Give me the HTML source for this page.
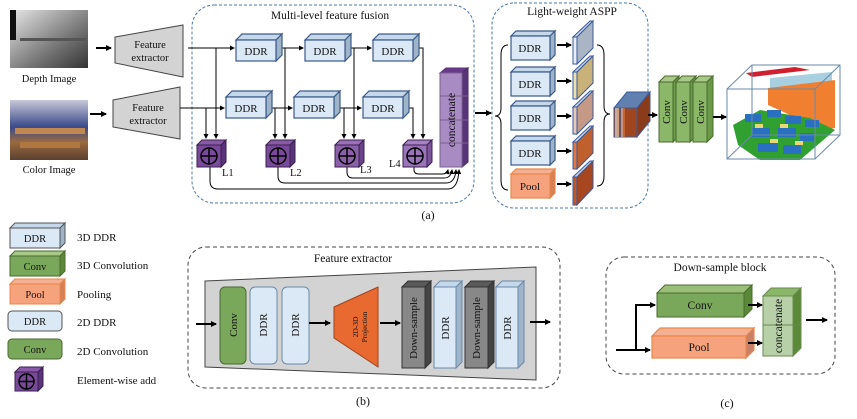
<!DOCTYPE html>
<html><head><meta charset="utf-8"><style>
html,body{margin:0;padding:0;background:#fff}
svg{display:block}
text{font-family:"Liberation Serif",serif;fill:#111}
</style></head><body>
<svg width="857" height="419" viewBox="0 0 857 419" xmlns="http://www.w3.org/2000/svg">
<defs>
<marker id="ah" markerWidth="6" markerHeight="6" refX="5" refY="3" orient="auto" markerUnits="userSpaceOnUse"><path d="M0,0 L6,3 L0,6 z" fill="#000"/></marker>
<marker id="as" markerWidth="5" markerHeight="5" refX="4" refY="2.5" orient="auto" markerUnits="userSpaceOnUse"><path d="M0,0 L5,2.5 L0,5 z" fill="#000"/></marker>
<linearGradient id="dg" x1="0" y1="0" x2="1" y2="1"><stop offset="0" stop-color="#e8e8e8"/><stop offset="0.6" stop-color="#777"/><stop offset="1" stop-color="#333"/></linearGradient>
<linearGradient id="cg" x1="0" y1="0" x2="0" y2="1"><stop offset="0" stop-color="#c8c8d8"/><stop offset="0.45" stop-color="#3a4a8a"/><stop offset="0.7" stop-color="#9a6a40"/><stop offset="1" stop-color="#5a4030"/></linearGradient>
</defs>

<rect x="10" y="10" width="78" height="58" fill="url(#dg)"/>
<rect x="10" y="10" width="6" height="30" fill="#111"/>
<rect x="20" y="38" width="66" height="3" fill="#555"/>
<text x="49" y="82" font-size="10.5" text-anchor="middle">Depth Image</text>
<rect x="10" y="100" width="78" height="60" fill="url(#cg)"/>
<rect x="15" y="128" width="70" height="6" fill="#c08850"/>
<rect x="20" y="142" width="60" height="6" fill="#b07840"/>
<text x="49" y="173" font-size="10.5" text-anchor="middle">Color Image</text>

<line x1="96" y1="48" x2="111" y2="48" stroke="#000" stroke-width="2" marker-end="url(#ah)"/>
<line x1="90" y1="114" x2="106" y2="114" stroke="#000" stroke-width="2" marker-end="url(#ah)"/>

<polygon points="115,37 183,25 183,77 115,63" fill="#d3d3d3" stroke="#444" stroke-width="1"/>
<text x="150" y="48" font-size="10.5" text-anchor="middle">Feature</text>
<text x="150" y="61" font-size="10.5" text-anchor="middle">extractor</text>
<polygon points="113,100 180,87 180,139 113,127" fill="#d3d3d3" stroke="#444" stroke-width="1"/>
<text x="148" y="111" font-size="10.5" text-anchor="middle">Feature</text>
<text x="148" y="124" font-size="10.5" text-anchor="middle">extractor</text>

<rect x="192" y="5" width="282" height="198" rx="22" fill="none" stroke="#4a78a8" stroke-width="1" stroke-dasharray="3,2"/>
<text x="330" y="19" font-size="11.5" text-anchor="middle">Multi-level feature fusion</text>

<g stroke="#000" stroke-width="1" fill="none">
<line x1="188" y1="48" x2="234" y2="48" marker-end="url(#as)"/>
<line x1="282" y1="48" x2="303" y2="48" marker-end="url(#as)"/>
<line x1="351" y1="48" x2="371" y2="48" marker-end="url(#as)"/>
<polyline points="419,48 423,48 423,138" marker-end="url(#as)"/>
<line x1="180" y1="108" x2="224" y2="108" marker-end="url(#as)"/>
<line x1="272" y1="108" x2="292" y2="108" marker-end="url(#as)"/>
<line x1="340" y1="108" x2="361" y2="108" marker-end="url(#as)"/>
<polyline points="409,108 413,108 413,138" marker-end="url(#as)"/>
<line x1="216" y1="48" x2="216" y2="138" marker-end="url(#as)"/>
<line x1="206" y1="108" x2="206" y2="138" marker-end="url(#as)"/>
<line x1="285" y1="48" x2="285" y2="138" marker-end="url(#as)"/>
<line x1="275" y1="108" x2="275" y2="138" marker-end="url(#as)"/>
<line x1="354" y1="48" x2="354" y2="138" marker-end="url(#as)"/>
<line x1="344" y1="108" x2="344" y2="138" marker-end="url(#as)"/>
<path d="M210,167 L210,181 Q210,189 218,189 L448,189 Q458,189 459,170" marker-end="url(#as)"/>
<path d="M278,167 L278,176 Q278,183 285,183 L446,183 Q455,183 456,170" marker-end="url(#as)"/>
<path d="M347,167 L347,172 Q347,178 353,178 L444,178 Q451,178 452,170" marker-end="url(#as)"/>
<path d="M414,167 L414,170 Q414,174 419,174 L442,174 Q447,174 448,170" marker-end="url(#as)"/>
</g>

<g stroke="#3a5a8a" stroke-width="1.2">
<polygon points="236,40 242,34 282,34 276,40" fill="#c5d8ea"/><polygon points="276,40 282,34 282,55 276,61" fill="#9fb4c8"/><rect x="236" y="40" width="40" height="21" fill="#dbe8f5"/>
<polygon points="305,40 311,34 351,34 345,40" fill="#c5d8ea"/><polygon points="345,40 351,34 351,55 345,61" fill="#9fb4c8"/><rect x="305" y="40" width="40" height="21" fill="#dbe8f5"/>
<polygon points="373,40 379,34 419,34 413,40" fill="#c5d8ea"/><polygon points="413,40 419,34 419,55 413,61" fill="#9fb4c8"/><rect x="373" y="40" width="40" height="21" fill="#dbe8f5"/>
<polygon points="226,97 232,91 272,91 266,97" fill="#c5d8ea"/><polygon points="266,97 272,91 272,112 266,118" fill="#9fb4c8"/><rect x="226" y="97" width="40" height="21" fill="#dbe8f5"/>
<polygon points="294,97 300,91 340,91 334,97" fill="#c5d8ea"/><polygon points="334,97 340,91 340,112 334,118" fill="#9fb4c8"/><rect x="294" y="97" width="40" height="21" fill="#dbe8f5"/>
<polygon points="363,97 369,91 409,91 403,97" fill="#c5d8ea"/><polygon points="403,97 409,91 409,112 403,118" fill="#9fb4c8"/><rect x="363" y="97" width="40" height="21" fill="#dbe8f5"/>
</g>
<g font-size="11" text-anchor="middle">
<text x="256" y="55">DDR</text><text x="325" y="55">DDR</text><text x="393" y="55">DDR</text>
<text x="246" y="112">DDR</text><text x="314" y="112">DDR</text><text x="383" y="112">DDR</text>
</g>

<g stroke="#3a2050" stroke-width="1">
<polygon points="197,145 202,140 226,140 221,145" fill="#8a5aa8"/><polygon points="221,145 226,140 226,162 221,167" fill="#5a3478"/><rect x="197" y="145" width="24" height="22" fill="#7a4a9a"/>
<polygon points="266,145 271,140 295,140 290,145" fill="#8a5aa8"/><polygon points="290,145 295,140 295,162 290,167" fill="#5a3478"/><rect x="266" y="145" width="24" height="22" fill="#7a4a9a"/>
<polygon points="335,145 340,140 364,140 359,145" fill="#9a70b8"/><polygon points="359,145 364,140 364,162 359,167" fill="#6a4488"/><rect x="335" y="145" width="24" height="22" fill="#8a60a8"/>
<polygon points="403,145 408,140 432,140 427,145" fill="#a880c4"/><polygon points="427,145 432,140 432,162 427,167" fill="#7a5498"/><rect x="403" y="145" width="24" height="22" fill="#9a74b8"/>
</g>
<g stroke="#000" stroke-width="1.5" fill="none">
<circle cx="209" cy="156" r="8"/><line x1="201" y1="156" x2="217" y2="156"/><line x1="209" y1="148" x2="209" y2="164"/>
<circle cx="278" cy="156" r="8"/><line x1="270" y1="156" x2="286" y2="156"/><line x1="278" y1="148" x2="278" y2="164"/>
<circle cx="347" cy="156" r="8"/><line x1="339" y1="156" x2="355" y2="156"/><line x1="347" y1="148" x2="347" y2="164"/>
<circle cx="415" cy="156" r="8"/><line x1="407" y1="156" x2="423" y2="156"/><line x1="415" y1="148" x2="415" y2="164"/>
</g>
<g font-size="10.5"><text x="222" y="176">L1</text><text x="290" y="176">L2</text><text x="360" y="173">L3</text><text x="389" y="167">L4</text></g>

<polygon points="440,73 446,68 468,68 462,73" fill="#6a3a8a" stroke="#5a3478"/>
<polygon points="462,73 468,68 468,162 462,167" fill="#5a3478" stroke="#4a2868"/>
<rect x="440" y="73" width="22" height="94" fill="#a98bc4" stroke="#7a6090"/>
<g stroke="#7a6090"><line x1="440" y1="96" x2="468" y2="96"/><line x1="440" y1="120" x2="468" y2="120"/><line x1="440" y1="143" x2="468" y2="143"/></g>
<text transform="translate(455,120) rotate(-90)" font-size="11.5" text-anchor="middle">concatenate</text>
<line x1="475" y1="113" x2="491" y2="113" stroke="#000" stroke-width="2" marker-end="url(#ah)"/>

<rect x="492" y="3" width="156" height="205" rx="22" fill="none" stroke="#4a78a8" stroke-width="1" stroke-dasharray="3,2"/>
<text x="572" y="15" font-size="11.5" text-anchor="middle">Light-weight ASPP</text>
<path d="M508,45 Q501,45 501,55 L501,108 Q501,116 495,116 Q501,116 501,124 L501,180 Q501,190 508,190" fill="none" stroke="#000" stroke-width="1"/>
<path d="M597,45 Q604,45 604,55 L604,106 Q604,114 610,114 Q604,114 604,122 L604,176 Q604,186 597,186" fill="none" stroke="#000" stroke-width="1"/>
<g stroke="#3a5a8a" stroke-width="1.2">
<polygon points="511,36 516,31 555,31 550,36" fill="#c5d8ea"/><polygon points="550,36 555,31 555,55 550,60" fill="#9fb4c8"/><rect x="511" y="36" width="39" height="24" fill="#dbe8f5"/>
<polygon points="511,72 516,67 555,67 550,72" fill="#c5d8ea"/><polygon points="550,72 555,67 555,91 550,96" fill="#9fb4c8"/><rect x="511" y="72" width="39" height="24" fill="#dbe8f5"/>
<polygon points="511,106 516,101 555,101 550,106" fill="#c5d8ea"/><polygon points="550,106 555,101 555,125 550,130" fill="#9fb4c8"/><rect x="511" y="106" width="39" height="24" fill="#dbe8f5"/>
<polygon points="511,141 516,136 555,136 550,141" fill="#c5d8ea"/><polygon points="550,141 555,136 555,160 550,165" fill="#9fb4c8"/><rect x="511" y="141" width="39" height="24" fill="#dbe8f5"/>
</g>
<g stroke="#e8884a" stroke-width="1.2">
<polygon points="511,174 516,169 555,169 550,174" fill="#f4b090"/><polygon points="550,174 555,169 555,193 550,198" fill="#d4805a"/><rect x="511" y="174" width="39" height="24" fill="#f6a27c"/>
</g>
<g font-size="11" text-anchor="middle"><text x="530" y="52">DDR</text><text x="530" y="88">DDR</text><text x="530" y="122">DDR</text><text x="530" y="157">DDR</text><text x="530" y="190">Pool</text></g>
<g stroke="#000" stroke-width="2">
<line x1="557" y1="45" x2="571" y2="45" marker-end="url(#ah)"/><line x1="557" y1="81" x2="571" y2="81" marker-end="url(#ah)"/><line x1="557" y1="116" x2="571" y2="116" marker-end="url(#ah)"/><line x1="557" y1="151" x2="571" y2="151" marker-end="url(#ah)"/><line x1="557" y1="184" x2="571" y2="184" marker-end="url(#ah)"/>
</g>
<g stroke="#3a5a9a" stroke-width="1">
<polygon points="573,37 590,21 593,21 577,37" fill="#c9d6e8"/><polygon points="577,37 593,21 593,48 577,64" fill="#a9b5c4"/><rect x="573" y="37" width="4" height="27" fill="#e8eef8"/>
<polygon points="573,72 590,56 593,56 577,72" fill="#c9d6e8"/><polygon points="577,72 593,56 593,83 577,99" fill="#c9b27a"/><rect x="573" y="72" width="4" height="27" fill="#ece0b0"/>
<polygon points="573,107 590,91 593,91 577,107" fill="#c9d6e8"/><polygon points="577,107 593,91 593,118 577,134" fill="#c49a86"/><rect x="573" y="107" width="4" height="27" fill="#e8c8b8"/>
<polygon points="573,142 590,126 593,126 577,142" fill="#c9d6e8"/><polygon points="577,142 593,126 593,153 577,169" fill="#c0602e"/><rect x="573" y="142" width="4" height="27" fill="#e07840"/>
<polygon points="573,177 590,161 593,161 577,177" fill="#c9d6e8"/><polygon points="577,177 593,161 593,188 577,205" fill="#a8461f"/><rect x="573" y="177" width="4" height="28" fill="#c05828"/>
</g>
<polygon points="614,108 627,92 650,92 637,108" fill="#6080b0" stroke="#3a5a9a"/>
<polygon points="637,108 650,92 650,121 637,137" fill="#8a3c1a" stroke="#3a5a9a"/>
<rect x="614" y="108" width="23" height="29" fill="#a0461e" stroke="#3a5a9a"/>
<g stroke-width="1.2"><line x1="616" y1="108" x2="616" y2="137" stroke="#e8eef8"/><line x1="618" y1="108" x2="618" y2="137" stroke="#ece0b0"/><line x1="620" y1="108" x2="620" y2="137" stroke="#3a5a9a"/><line x1="622" y1="108" x2="622" y2="137" stroke="#e8c8b8"/><line x1="624" y1="108" x2="624" y2="137" stroke="#e07840"/></g>
<line x1="648" y1="115" x2="657" y2="115" stroke="#000" stroke-width="2" marker-end="url(#ah)"/>

<g stroke="#4a6a30" stroke-width="1">
<polygon points="659,82 665,76 679,76 673,82" fill="#a8c888"/><polygon points="673,82 679,76 679,136 673,142" fill="#6a9a48"/><rect x="659" y="82" width="14" height="60" fill="#8ab868"/>
<polygon points="676,82 682,76 696,76 690,82" fill="#a8c888"/><polygon points="690,82 696,76 696,136 690,142" fill="#6a9a48"/><rect x="676" y="82" width="14" height="60" fill="#8ab868"/>
<polygon points="693,82 699,76 713,76 707,82" fill="#a8c888"/><polygon points="707,82 713,76 713,136 707,142" fill="#6a9a48"/><rect x="693" y="82" width="14" height="60" fill="#8ab868"/>
</g>
<g font-size="11" text-anchor="middle"><text transform="translate(670,112) rotate(-90)">Conv</text><text transform="translate(687,112) rotate(-90)">Conv</text><text transform="translate(704,112) rotate(-90)">Conv</text></g>
<line x1="713" y1="117" x2="726" y2="117" stroke="#000" stroke-width="2" marker-end="url(#ah)"/>

<g>
<polygon points="746,73 795,67 810,70 752,77" fill="#d02030"/>
<polygon points="770,78 832,72 832,92 770,92" fill="#a8d0e0"/>
<polygon points="768,88 835,80 835,128 800,135 790,115 768,105" fill="#f08030"/>
<polygon points="733,125 760,110 810,118 835,130 800,160 760,160 738,145" fill="#30a030"/>
<g fill="#2a70c0">
<rect x="745" y="114" width="16" height="8"/><rect x="767" y="110" width="14" height="7"/><rect x="785" y="116" width="16" height="8"/><rect x="805" y="120" width="14" height="7"/>
<rect x="752" y="128" width="18" height="9"/><rect x="778" y="128" width="18" height="9"/><rect x="800" y="133" width="14" height="8"/>
<rect x="758" y="143" width="20" height="9"/><rect x="783" y="145" width="18" height="9"/>
</g>
<g fill="#e8d878"><rect x="755" y="124" width="8" height="4"/><rect x="780" y="124" width="8" height="4"/><rect x="770" y="139" width="8" height="4"/><rect x="795" y="141" width="8" height="4"/></g>
</g>
<g fill="none" stroke="#6a8aaa" stroke-width="1">
<rect x="752" y="65" width="88" height="70"/>
<rect x="727" y="89" width="88" height="70"/>
<line x1="727" y1="89" x2="752" y2="65"/><line x1="815" y1="89" x2="840" y2="65"/><line x1="815" y1="159" x2="840" y2="135"/><line x1="727" y1="159" x2="752" y2="135"/>
</g>

<text x="428" y="219" font-size="12" text-anchor="middle">(a)</text>

<g stroke-width="1">
<polygon points="10,228 15,223 65,223 60,228" fill="#c5d8ea" stroke="#555"/><polygon points="60,228 65,223 65,243 60,248" fill="#9fb4c8" stroke="#555"/><rect x="10" y="228" width="50" height="20" fill="#dbe8f5" stroke="#555"/>
<polygon points="10,256 15,251 65,251 60,256" fill="#a8c888" stroke="#4a6a30"/><polygon points="60,256 65,251 65,271 60,276" fill="#5a8a38" stroke="#4a6a30"/><rect x="10" y="256" width="50" height="20" fill="#7aa85a" stroke="#4a6a30"/>
<polygon points="10,284 15,279 65,279 60,284" fill="#f4b090" stroke="#e8884a"/><polygon points="60,284 65,279 65,299 60,304" fill="#d4805a" stroke="#e8884a"/><rect x="10" y="284" width="50" height="20" fill="#f6a27c" stroke="#e8884a"/>
<rect x="8" y="311" width="54" height="20" rx="4" fill="#dbe8f5" stroke="#555"/>
<rect x="8" y="339" width="54" height="20" rx="4" fill="#7aa85a" stroke="#4a6a30"/>
<polygon points="15,372 20,367 43,367 38,372" fill="#8a5aa8" stroke="#3a2050"/><polygon points="38,372 43,367 43,386 38,391" fill="#5a3478" stroke="#3a2050"/><rect x="15" y="372" width="23" height="19" fill="#7a4a9a" stroke="#3a2050"/>
</g>
<g stroke="#000" stroke-width="1.5" fill="none"><circle cx="26.5" cy="381.5" r="7.5"/><line x1="19" y1="381.5" x2="34" y2="381.5"/><line x1="26.5" y1="374" x2="26.5" y2="389"/></g>
<g font-size="10.5" text-anchor="middle"><text x="35" y="242">DDR</text><text x="35" y="270">Conv</text><text x="35" y="298">Pool</text><text x="35" y="325">DDR</text><text x="35" y="353">Conv</text></g>
<g font-size="11"><text x="77" y="241">3D DDR</text><text x="77" y="269">3D Convolution</text><text x="77" y="298">Pooling</text><text x="77" y="326">2D DDR</text><text x="77" y="355">2D Convolution</text><text x="77" y="384">Element-wise add</text></g>

<rect x="188" y="247" width="372" height="141" rx="18" fill="none" stroke="#444" stroke-width="1" stroke-dasharray="4,3"/>
<text x="353" y="262" font-size="11.5" text-anchor="middle">Feature extractor</text>
<polygon points="205,281 536,267 536,380 205,367" fill="#d3d3d3" stroke="#444"/>
<rect x="220" y="287" width="26" height="77" rx="5" fill="#7aa85a" stroke="#4a6a30"/>
<rect x="250" y="287" width="27" height="77" rx="5" fill="#dbe8f5" stroke="#6a8aaa"/>
<rect x="282" y="287" width="27" height="77" rx="5" fill="#dbe8f5" stroke="#6a8aaa"/>
<g font-size="11" text-anchor="middle"><text transform="translate(237,325) rotate(-90)">Conv</text><text transform="translate(267,325) rotate(-90)">DDR</text><text transform="translate(299,325) rotate(-90)">DDR</text></g>
<polygon points="334,307 378,287 378,367 334,338" fill="#e86a30" stroke="#a04018"/>
<text transform="translate(360,327) rotate(-90)" font-size="7.5" text-anchor="middle"><tspan x="0" dy="-2">2D-3D</tspan><tspan x="0" dy="9">Projection</tspan></text>
<g stroke="#333" stroke-width="1">
<polygon points="402,287 408,281 431,281 425,287" fill="#5a5a5a"/><polygon points="425,287 431,281 431,362 425,368" fill="#444"/><rect x="402" y="287" width="23" height="81" fill="#888"/>
<polygon points="465,287 471,281 494,281 488,287" fill="#5a5a5a"/><polygon points="488,287 494,281 494,362 488,368" fill="#444"/><rect x="465" y="287" width="23" height="81" fill="#888"/>
</g>
<g stroke="#6a8aaa" stroke-width="1">
<polygon points="434,287 440,281 462,281 456,287" fill="#c5d8ea"/><polygon points="456,287 462,281 462,362 456,368" fill="#9fb4c8"/><rect x="434" y="287" width="22" height="81" fill="#dbe8f5"/>
<polygon points="496,287 502,281 524,281 518,287" fill="#c5d8ea"/><polygon points="518,287 524,281 524,362 518,368" fill="#9fb4c8"/><rect x="496" y="287" width="22" height="81" fill="#dbe8f5"/>
</g>
<g font-size="11" text-anchor="middle"><text transform="translate(417,328) rotate(-90)">Down-sample</text><text transform="translate(449,328) rotate(-90)">DDR</text><text transform="translate(480,328) rotate(-90)">Down-sample</text><text transform="translate(511,328) rotate(-90)">DDR</text></g>
<g stroke="#000" stroke-width="2">
<line x1="196" y1="324" x2="216" y2="324" marker-end="url(#ah)"/>
<line x1="309" y1="323" x2="330" y2="323" marker-end="url(#ah)"/>
<line x1="380" y1="323" x2="400" y2="323" marker-end="url(#ah)"/>
<line x1="530" y1="322" x2="550" y2="322" marker-end="url(#ah)"/>
</g>
<text x="363" y="405" font-size="12" text-anchor="middle">(b)</text>

<rect x="606" y="257" width="229" height="117" rx="18" fill="none" stroke="#444" stroke-width="1" stroke-dasharray="4,3"/>
<text x="720" y="271" font-size="11.5" text-anchor="middle">Down-sample block</text>
<g stroke="#4a6a30" stroke-width="1">
<polygon points="657,293 665,285 752,285 744,293" fill="#9ac078"/><polygon points="744,293 752,285 752,309 744,317" fill="#5a8a38"/><rect x="657" y="293" width="87" height="24" fill="#7aa85a"/>
</g>
<g stroke="#e8884a" stroke-width="1.2">
<polygon points="652,336 660,328 754,328 746,336" fill="#f4b090"/><polygon points="746,336 754,328 754,350 746,358" fill="#c88068"/><rect x="652" y="336" width="94" height="22" fill="#f6a27c"/>
</g>
<text x="700" y="309" font-size="11.5" text-anchor="middle">Conv</text>
<text x="699" y="351" font-size="11.5" text-anchor="middle">Pool</text>
<g stroke="#6a8a50" stroke-width="1">
<polygon points="763,296 771,288 801,288 793,296" fill="#8ab868"/><polygon points="793,296 801,288 801,348 793,356" fill="#5a8a38"/><rect x="763" y="296" width="30" height="60" fill="#b8d0a8"/>
<line x1="763" y1="325" x2="801" y2="325"/>
</g>
<text transform="translate(782,326) rotate(-90)" font-size="11.5" text-anchor="middle">concatenate</text>
<g stroke="#000" stroke-width="2" fill="none">
<line x1="616" y1="350" x2="650" y2="350" marker-end="url(#ah)"/>
<polyline points="636,350 636,305 655,305" marker-end="url(#ah)"/>
<line x1="748" y1="305" x2="762" y2="305" marker-end="url(#ah)"/>
<line x1="748" y1="343" x2="762" y2="343" marker-end="url(#ah)"/>
<line x1="806" y1="320" x2="827" y2="320" marker-end="url(#ah)"/>
</g>
<text x="727" y="407" font-size="12" text-anchor="middle">(c)</text>
</svg>
</body></html>
